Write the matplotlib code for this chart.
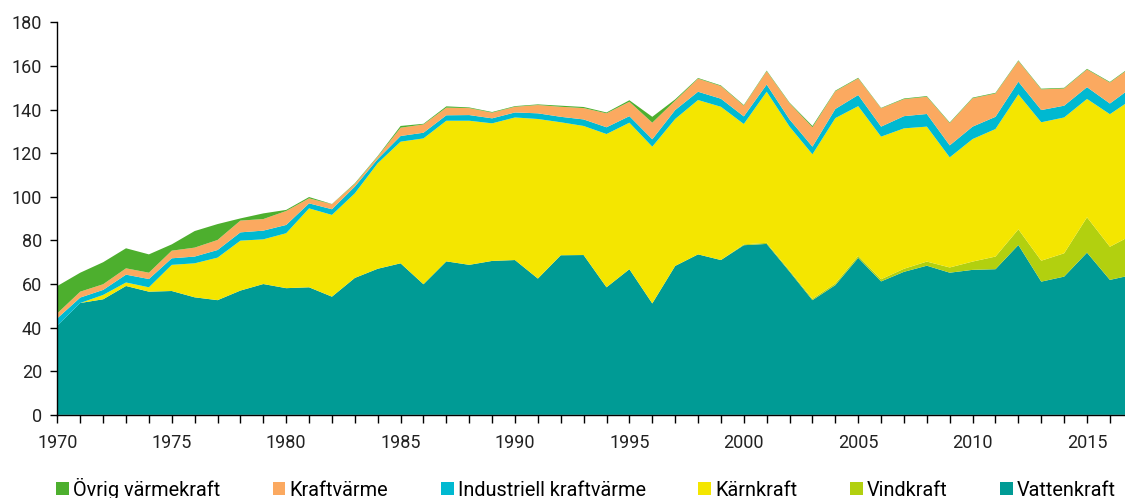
import matplotlib
matplotlib.use("Agg")
import matplotlib.pyplot as plt
import numpy as np

plt.rcParams['font.family'] = ['Roboto', 'DejaVu Sans']

years = np.arange(1970, 2018)

# TWh
vattenkraft = [41.0, 51.3, 53.0, 59.1, 56.5, 56.8, 53.9, 52.6, 57.0, 60.0,
               58.1, 58.5, 54.2, 62.8, 67.0, 69.5, 59.9, 70.4, 68.8, 70.6,
               71.0, 62.5, 73.2, 73.3, 58.5, 66.8, 51.1, 68.3, 73.6, 71.0,
               77.8, 78.4, 65.7, 52.6, 59.5, 72.0, 61.2, 65.6, 68.4, 65.2,
               66.5, 66.8, 77.9, 61.1, 63.4, 74.4, 61.9, 64.2]
vindkraft = [0.0] * 30 + [0.4, 0.5, 0.5, 0.6, 0.8, 0.9, 1.0, 1.4, 1.9, 2.4,
                          3.8, 5.8, 7.2, 9.6, 10.7, 16.2, 15.2, 18.4]
karnkraft = [0.0, 0.0, 2.0, 1.6, 2.0, 12.0, 15.6, 19.5, 22.9, 20.5,
             25.2, 36.2, 37.5, 38.8, 48.4, 55.8, 66.9, 64.5, 66.1, 63.1,
             65.4, 73.2, 61.0, 59.2, 70.3, 67.2, 71.9, 67.4, 70.8, 70.3,
             55.2, 69.3, 66.0, 66.3, 75.8, 68.7, 65.4, 64.4, 61.9, 50.5,
             56.2, 58.5, 61.9, 63.5, 62.3, 54.3, 60.8, 62.4]
industriell = [3.3, 2.5, 2.3, 3.6, 3.8, 3.0, 3.1, 3.5, 3.8, 4.0,
               3.8, 2.3, 2.6, 3.1, 1.9, 2.6, 2.6, 2.5, 2.6, 2.3,
               2.3, 2.6, 2.5, 3.0, 3.1, 3.0, 3.4, 4.1, 3.8, 3.7,
               3.5, 3.3, 3.3, 3.5, 4.2, 5.1, 4.6, 5.6, 5.8, 5.5,
               5.7, 5.6, 5.8, 5.6, 5.4, 5.4, 4.9, 5.5]
kraftvarme = [2.3, 2.7, 2.6, 2.9, 2.9, 3.5, 4.1, 4.6, 5.4, 5.3,
              6.4, 2.3, 2.3, 1.2, 1.1, 3.8, 3.8, 3.5, 3.2, 2.6,
              2.6, 3.8, 4.6, 5.2, 6.4, 6.6, 7.6, 4.3, 6.0, 5.8,
              4.9, 6.1, 7.4, 8.9, 8.1, 7.6, 8.4, 7.8, 7.9, 10.2,
              13.0, 10.7, 9.5, 9.5, 7.9, 8.1, 9.6, 9.5]
ovrig = [12.5, 8.7, 10.1, 9.2, 8.4, 2.9, 7.6, 7.3, 1.0, 2.6,
         0.5, 0.6, 0.1, 0.3, 0.3, 0.8, 0.3, 0.6, 0.3, 0.3,
         0.3, 0.3, 0.5, 0.5, 0.4, 0.7, 2.7, 0.6, 0.3, 0.3,
         0.3, 0.3, 0.3, 0.6, 0.3, 0.3, 0.2, 0.3, 0.3, 0.3,
         0.3, 0.3, 0.3, 0.3, 0.3, 0.3, 0.3, 0.3]

labels = ['Vattenkraft', 'Vindkraft', 'Kärnkraft', 'Industriell kraftvärme',
          'Kraftvärme', 'Övrig värmekraft']
colors = ['#009B95', '#B2D00F', '#F4E600', '#00B9D1', '#FBA960', '#4DAF2E']

fig = plt.figure(figsize=(11.25, 4.98), dpi=100)
ax = fig.add_axes([0.051, 0.167, 0.949, 0.788])

ax.stackplot(years, vattenkraft, vindkraft, karnkraft, industriell,
             kraftvarme, ovrig, colors=colors, labels=labels, linewidth=0)

ax.set_xlim(1970, 2016.66)
ax.set_ylim(0, 180)
ax.set_yticks(np.arange(0, 181, 20))
ax.set_xticks(np.arange(1970, 2017, 5))
ax.set_xticks(np.arange(1970, 2017, 1), minor=True)
ax.tick_params(axis='both', labelsize=13, labelcolor='#222222', color='black')
ax.tick_params(axis='x', which='both', length=6, width=1, pad=8)
ax.tick_params(axis='y', length=5, width=1, pad=6)
for s in ['top', 'right']:
    ax.spines[s].set_visible(False)
for s in ['left', 'bottom']:
    ax.spines[s].set_color('black')
    ax.spines[s].set_linewidth(1)
    ax.spines[s].set_zorder(5)

handles, labs = ax.get_legend_handles_labels()
ax.legend(handles[::-1], labs[::-1], loc='center', bbox_to_anchor=(0.495, -0.188),
          ncol=6, frameon=False, fontsize=14.3, handlelength=0.65, handleheight=0.65,
          handletextpad=0.2, columnspacing=2.65, borderaxespad=0, borderpad=0)

fig.savefig('out.png', dpi=100)
